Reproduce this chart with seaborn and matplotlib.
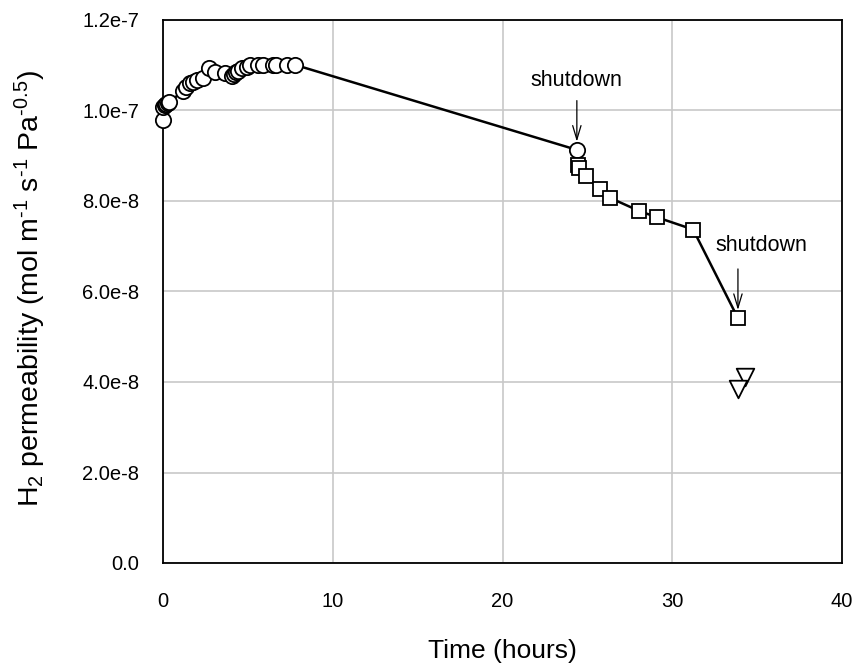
import matplotlib
matplotlib.use("Agg")
import matplotlib.pyplot as plt
import seaborn as sns
import pandas as pd
from matplotlib.ticker import FuncFormatter, MultipleLocator

# ---- data ----
circle_t = [0.02, 0.0, 0.12, 0.2, 0.3, 0.37, 1.16, 1.35, 1.59, 1.78, 1.98, 2.37, 2.73,
            3.06, 3.65, 4.05, 4.18, 4.3, 4.43, 4.63, 4.93, 5.12, 5.61, 5.91, 6.5, 6.65,
            7.28, 7.77, 24.38]
circle_p = [9.79e-8, 1.008e-7, 1.012e-7, 1.014e-7, 1.017e-7, 1.019e-7, 1.042e-7, 1.053e-7,
            1.060e-7, 1.064e-7, 1.067e-7, 1.071e-7, 1.093e-7, 1.084e-7, 1.082e-7, 1.076e-7,
            1.081e-7, 1.084e-7, 1.088e-7, 1.093e-7, 1.097e-7, 1.101e-7, 1.101e-7, 1.101e-7,
            1.101e-7, 1.101e-7, 1.101e-7, 1.101e-7, 9.13e-8]
square_t = [24.42, 24.52, 24.9, 25.74, 26.33, 28.05, 29.1, 31.23, 33.87]
square_p = [8.80e-8, 8.72e-8, 8.55e-8, 8.26e-8, 8.07e-8, 7.78e-8, 7.64e-8, 7.37e-8, 5.41e-8]
tri_t = [34.28, 33.85]
tri_p = [4.10e-8, 3.84e-8]
annot_text = ["shutdown", "shutdown"]
annot_xy = [(24.38, 9.13e-8), (33.87, 5.41e-8)]

sns.set_style("white")
plt.rcParams['font.family'] = ['Liberation Sans', 'DejaVu Sans']
plt.rcParams['mathtext.fontset'] = 'custom'
plt.rcParams['mathtext.rm'] = 'Liberation Sans'
plt.rcParams['mathtext.it'] = 'Liberation Sans:italic'
plt.rcParams['text.color'] = 'black'
plt.rcParams['axes.labelcolor'] = 'black'

fig = plt.figure(figsize=(8.59, 6.66), dpi=100)
ax = fig.add_axes([163/859, 1-563/666, (842-163)/859, (563-20)/666])

df_c = pd.DataFrame({"t": circle_t, "p": circle_p})
df_s = pd.DataFrame({"t": square_t, "p": square_p})
df_v = pd.DataFrame({"t": tri_t, "p": tri_p})

mk = dict(markerfacecolor="white", markeredgecolor="black", markeredgewidth=1.3)
sns.lineplot(data=df_c, x="t", y="p", sort=False, estimator=None, color="black", lw=1.8,
             marker="o", markersize=11, ax=ax, zorder=3, clip_on=False, **mk)
sns.lineplot(data=df_s, x="t", y="p", sort=False, estimator=None, color="black", lw=1.8,
             marker="s", markersize=10.5, ax=ax, zorder=3, clip_on=False, **mk)
sns.scatterplot(data=df_v, x="t", y="p", marker="v", s=160, facecolor="white",
                edgecolor="black", linewidth=1.3, ax=ax, zorder=4)

ax.set_xlim(0, 40)
ax.set_ylim(0, 1.2e-7)
ax.xaxis.set_major_locator(MultipleLocator(10))
ax.yaxis.set_major_locator(MultipleLocator(2e-8))

def yfmt(v, pos):
    if abs(v) < 1e-15:
        return "0.0"
    s = f"{v:.1e}"
    m, e = s.split("e")
    return f"{m}e{int(e)}"
ax.yaxis.set_major_formatter(FuncFormatter(yfmt))

ax.grid(True, color="#c8c8c8", lw=1.2)
ax.set_axisbelow(True)
for sp in ax.spines.values():
    sp.set_color("black")
    sp.set_linewidth(1.3)
ax.tick_params(direction="inout", length=10, width=1.2, labelsize=14.5, colors="black")
ax.tick_params(axis="x", pad=16)
ax.tick_params(axis="y", pad=12)

ax.set_xlabel("Time (hours)", fontsize=19, labelpad=20)
ax.set_ylabel(r"H$_2$ permeability (mol m$^{\text{-1}}$ s$^{\text{-1}}$ Pa$^{\text{-0.5}}$)",
              fontsize=20.5)
ax.yaxis.set_label_coords(-0.17, 0.505)

for txt, (x, y) in zip(annot_text, annot_xy):
    ax.annotate("", xy=(x, y + 1.2e-9), xytext=(x, y + 1.15e-8),
                arrowprops=dict(arrowstyle="->,head_length=1.0,head_width=0.3", lw=0.9, color="black"))
ax.text(24.38, 1.066e-7, "shutdown", fontsize=15.5, ha="center", va="center")
ax.text(35.28, 7.02e-8, "shutdown", fontsize=15.5, ha="center", va="center")

fig.savefig("out.png", dpi=100)
